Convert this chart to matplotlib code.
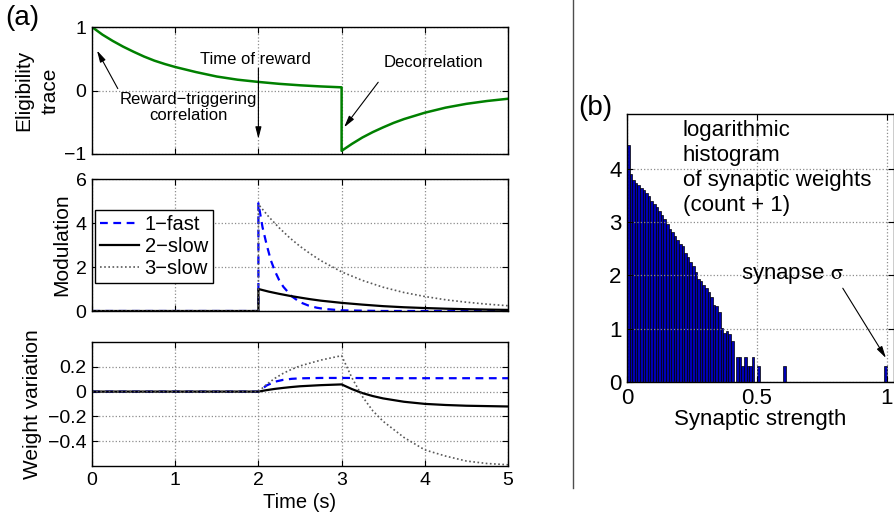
import numpy as np
import matplotlib
matplotlib.use('Agg')
import matplotlib.pyplot as plt
from matplotlib.lines import Line2D

plt.rcParams['font.family'] = ['Liberation Sans', 'DejaVu Sans']
plt.rcParams['mathtext.fontset'] = 'stix'
plt.rcParams['xtick.direction'] = 'in'
plt.rcParams['ytick.direction'] = 'in'
plt.rcParams['axes.linewidth'] = 1.0

# eligibility trace (top panel)
t_elig = [0, 0.125, 0.25, 0.375, 0.5, 0.625, 0.75, 0.875, 1, 1.25, 1.5, 1.75, 2, 2.25,
          2.5, 2.75, 3,
          3, 3.125, 3.25, 3.375, 3.5, 3.625, 3.75, 4, 4.25, 4.5, 4.75, 5]
elig = [1, 0.88, 0.78, 0.69, 0.61, 0.535, 0.47, 0.417, 0.37, 0.29, 0.22, 0.17, 0.135, 0.105,
        0.082, 0.064, 0.05,
        -0.95, -0.84, -0.74, -0.655, -0.58, -0.51, -0.45, -0.35, -0.27, -0.21, -0.165, -0.13]

# modulation (middle panel)
t_fast = [0, 2, 2, 2.05, 2.1, 2.15, 2.2, 2.25, 2.3, 2.4, 2.5, 2.6, 2.7, 2.8, 3.0, 3.5, 5]
mod_fast = [0, 0, 4.9, 3.8, 3.0, 2.3, 1.8, 1.4, 1.1, 0.67, 0.4, 0.25, 0.15, 0.09, 0.03, 0.0, 0.0]
t_slow = [0, 2, 2, 2.125, 2.25, 2.375, 2.5, 2.625, 2.75, 3, 3.25, 3.5, 3.75, 4, 4.25,
          4.5, 4.75, 5]
mod_2slow = [0, 0, 1.0, 0.88, 0.78, 0.69, 0.61, 0.535, 0.47, 0.37, 0.29, 0.22, 0.17, 0.135,
             0.105, 0.082, 0.064, 0.05]
mod_3slow = [0, 0, 4.85, 4.28, 3.78, 3.33, 2.94, 2.6, 2.29, 1.78, 1.39, 1.08, 0.84, 0.66,
             0.51, 0.40, 0.31, 0.24]

# weight variation (bottom panel)
t_w = [0, 2, 2.1, 2.2, 2.3, 2.4, 2.5, 2.75, 3, 3.125, 3.25, 3.375, 3.5, 3.75, 4, 4.25,
       4.5, 4.75, 5]
w_fast = [0, 0, 0.05, 0.08, 0.095, 0.103, 0.107, 0.11, 0.11, 0.11, 0.109, 0.109, 0.108,
          0.108, 0.108, 0.108, 0.108, 0.108, 0.108]
w_2slow = [0, 0, 0.012, 0.022, 0.03, 0.037, 0.043, 0.052, 0.058, 0.02, -0.012, -0.036,
           -0.055, -0.082, -0.099, -0.108, -0.114, -0.117, -0.12]
w_3slow = [0, 0, 0.059, 0.108, 0.148, 0.18, 0.207, 0.254, 0.29, 0.11, -0.04, -0.155,
           -0.24, -0.37, -0.47, -0.52, -0.56, -0.58, -0.59]

# histogram: log10(count + 1), bins of 0.01
dense_counts = [4.45, 3.90, 3.79, 3.74, 3.69, 3.65, 3.60, 3.55, 3.49, 3.40,
                3.34, 3.28, 3.21, 3.13, 3.06, 2.96, 2.88, 2.81, 2.74, 2.66,
                2.59, 2.55, 2.43, 2.35, 2.26, 2.18, 2.07, 1.93, 1.90, 1.82,
                1.76, 1.68, 1.59, 1.44, 1.43, 1.32, 1.01, 0.92, 0.96, 0.90, 0.77]
tail_left = [0.42, 0.43, 0.44, 0.45, 0.46, 0.47, 0.48, 0.50, 0.60, 0.99]
tail_counts = [0.477, 0.477, 0.301, 0.477, 0.301, 0.301, 0.477, 0.301, 0.301, 0.301]
bin_left = list(np.round(np.arange(len(dense_counts)) * 0.01, 2)) + tail_left
log_count = dense_counts + tail_counts

time_ticks = [0, 1, 2, 3, 4, 5]
w_ticks = [-0.4, -0.2, 0, 0.2]
w_ticklabels = ['\u22120.4', '\u22120.2', '0', '0.2']

fig = plt.figure(figsize=(8.94, 5.14), dpi=100)
W, H = 894.0, 514.0

def box(l, t, r, b):
    return [l / W, 1 - b / H, (r - l) / W, (b - t) / H]

ax1 = fig.add_axes(box(92, 27, 508, 154))
ax2 = fig.add_axes(box(92, 179, 508, 311))
ax3 = fig.add_axes(box(92, 342, 508, 466))
ax4 = fig.add_axes(box(627, 114, 894, 382))

for ax in (ax1, ax2, ax3, ax4):
    ax.grid(True, linestyle=':', color='0.55', linewidth=0.9)
    ax.tick_params(top=True, right=True, length=4, labelsize=14, pad=4)

# top
ax1.plot(t_elig, elig, color='#008000', lw=1.8)
ax1.set_xlim(0, 5)
ax1.set_ylim(-1, 1)
ax1.set_xticks(time_ticks)
ax1.set_xticklabels([])
ax1.set_yticks([-1, 0, 1])
ax1.set_yticklabels(['\u22121', '0', '1'])
ax1.set_ylabel('Eligibility\ntrace', fontsize=15, va='center', linespacing=1.45)
ax1.yaxis.set_label_coords(-0.132, 0.5)
arr = dict(arrowstyle='-|>,head_length=0.7,head_width=0.18', color='k', lw=0.8,
           shrinkA=0, shrinkB=0)
ax1.text(1.96, 0.49, 'Time of reward', fontsize=12, ha='center', va='center')
ax1.annotate('', xy=(2, -0.76), xytext=(2, 0.35), arrowprops=arr)
ax1.text(1.16, -0.27, 'Reward\u2212triggering\ncorrelation', fontsize=12,
         ha='center', va='center', linespacing=1.05)
ax1.annotate('', xy=(0.06, 0.63), xytext=(0.31, 0.03), arrowprops=arr)
ax1.text(4.1, 0.44, 'Decorrelation', fontsize=12, ha='center', va='center')
ax1.annotate('', xy=(3.03, -0.58), xytext=(3.44, 0.13), arrowprops=arr)

# middle
ax2.plot(t_fast, mod_fast, color='#0000ff', lw=1.6, ls=(0, (3.5, 2.5)), label='1\u2212fast')
ax2.plot(t_slow, mod_2slow, color='k', lw=1.6, label='2\u2212slow')
ax2.plot(t_slow, mod_3slow, color='0.35', lw=1.2, ls=(0, (1, 1.5)), label='3\u2212slow')
ax2.set_xlim(0, 5)
ax2.set_ylim(0, 6)
ax2.set_xticks(time_ticks)
ax2.set_xticklabels([])
ax2.set_yticks([0, 2, 4, 6])
ax2.set_ylabel('Modulation', fontsize=15, va='center')
ax2.yaxis.set_label_coords(-0.072, 0.5)
leg = ax2.legend(loc='center left', bbox_to_anchor=(0.008, 0.49), fontsize=14.5,
                 fancybox=False, framealpha=1, edgecolor='k', handlelength=1.9,
                 handletextpad=0.3, borderpad=0.25, labelspacing=0.15, borderaxespad=0)
leg.get_frame().set_linewidth(1.0)

# bottom
ax3.plot(t_w, w_fast, color='#0000ff', lw=1.6, ls=(0, (3.5, 2.5)))
ax3.plot(t_w, w_2slow, color='k', lw=1.6)
ax3.plot(t_w, w_3slow, color='0.35', lw=1.2, ls=(0, (1, 1.5)))
ax3.set_xlim(0, 5)
ax3.set_ylim(-0.6, 0.4)
ax3.set_xticks(time_ticks)
ax3.set_yticks(w_ticks)
ax3.set_yticklabels(w_ticklabels)
ax3.set_xlabel('Time (s)', fontsize=14.5, labelpad=3)
ax3.set_ylabel('Weight variation', fontsize=15, va='center')
ax3.yaxis.set_label_coords(-0.142, 0.5)

# histogram
ax4.bar(bin_left, log_count, width=0.01, align='edge', color='#0000b4',
        edgecolor='k', linewidth=0.5)
ax4.set_xlim(0, 1.027)
ax4.set_ylim(0, 5.03)
ax4.set_xticks([0, 0.5, 1])
ax4.set_xticklabels(['0', '0.5', '1'])
ax4.set_yticks([0, 1, 2, 3, 4])
ax4.tick_params(labelsize=16)
ax4.set_xlabel('Synaptic strength', fontsize=16, labelpad=0)
ax4.text(0.214, 4.92, 'logarithmic\nhistogram\nof synaptic weights\n(count + 1)',
         fontsize=16, ha='left', va='top', linespacing=1.25)
ax4.text(0.44, 2.0, 'synapse $\\mathrm{\\sigma}$', fontsize=16, ha='left', va='center')
ax4.annotate('', xy=(0.996, 0.45), xytext=(0.83, 1.76), arrowprops=arr)

fig.text(5 / W, 1 - 18 / H, '(a)', fontsize=20, ha='left', va='center')
fig.text(578 / W, 1 - 108 / H, '(b)', fontsize=20, ha='left', va='center')
fig.add_artist(Line2D([573 / W, 573 / W], [1, 1 - 488 / H], color='0.3', lw=1.0))

fig.savefig('out.png', dpi=100)
